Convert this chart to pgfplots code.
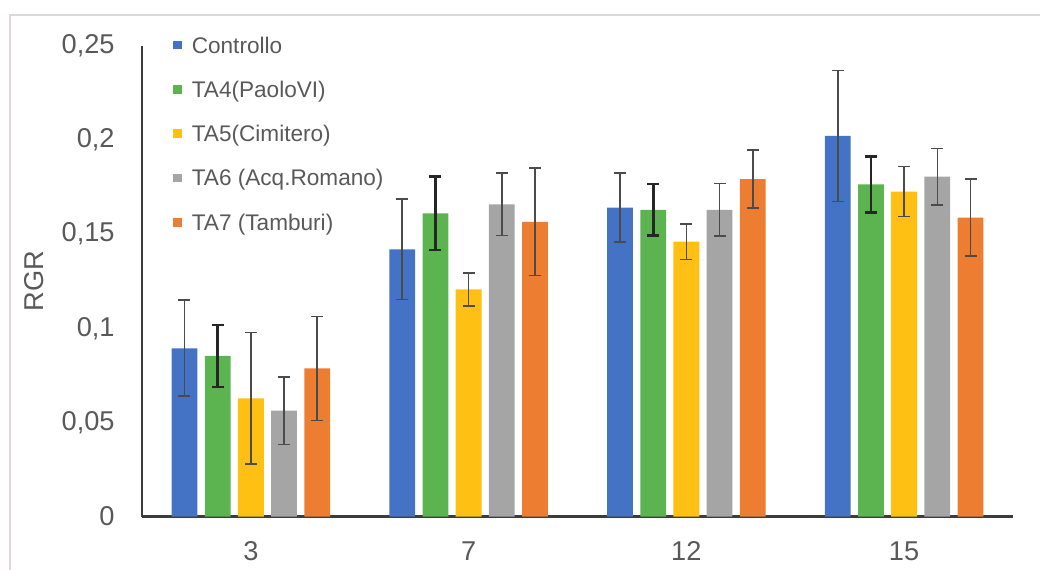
\documentclass[border=0pt]{standalone}
\usepackage{fontspec}
\setmainfont{Liberation Sans}
\usepackage{pgfplots}
\usepackage{pgfplotstable}
\pgfplotsset{compat=1.18}
\definecolor{cBlue}{RGB}{68,114,196}
\definecolor{cGreen}{RGB}{92,180,80}
\definecolor{cYellow}{RGB}{255,192,20}
\definecolor{cGray}{RGB}{165,165,165}
\definecolor{cOrange}{RGB}{237,125,49}
\definecolor{tickc}{RGB}{89,89,89}
\definecolor{axisc}{RGB}{60,60,60}
\definecolor{errc}{RGB}{75,75,75}
\definecolor{framec}{RGB}{222,216,214}
\pgfplotstableread{
x y e
0 0.0894 0.0255
1 0.1420 0.0267
2 0.1641 0.0183
3 0.2022 0.0348
}\tblA
\pgfplotstableread{
x y e
0 0.0853 0.0165
1 0.1611 0.0195
2 0.1629 0.0138
3 0.1765 0.0150
}\tblB
\pgfplotstableread{
x y e
0 0.0628 0.0350
1 0.1207 0.0087
2 0.1460 0.0095
3 0.1726 0.0133
}\tblC
\pgfplotstableread{
x y e
0 0.0562 0.0180
1 0.1659 0.0165
2 0.1629 0.0140
3 0.1806 0.0150
}\tblD
\pgfplotstableread{
x y e
0 0.0787 0.0276
1 0.1566 0.0286
2 0.1793 0.0155
3 0.1588 0.0204
}\tblE
\begin{document}
\begin{tikzpicture}
\path[use as bounding box] (-71pt,-26.25pt) rectangle (449pt,258.25pt);
\draw[framec, line width=0.8pt] (-66pt,-27pt) -- (-66pt,250.75pt) -- (450pt,250.75pt);
\begin{axis}[
  at={(0,0)}, anchor=south west,
  scale only axis, width=435.5pt, height=235.25pt,
  xmin=-0.5, xmax=3.5, ymin=0, ymax=0.25,
  ybar=3.7pt, bar width=12.9pt,
  axis x line*=bottom, axis y line*=left,
  axis line style={draw=axisc, line width=1.1pt},
  xtick={0,1,2,3}, xticklabels={3,7,12,15},
  ytick={0,0.05,0.1,0.15,0.2,0.25},
  scaled y ticks=false,
  major tick length=0pt,
  /pgf/number format/fixed,
  /pgf/number format/precision=2,
  /pgf/number format/use comma,
  /pgf/number format/assume math mode=true,
  tick label style={font=\fontsize{13.6}{16}\selectfont, text=tickc},
  yticklabel style={anchor=east, inner sep=0pt, xshift=-13.5pt},
  xticklabel style={anchor=base, inner sep=0pt, yshift=-21.75pt},
  ylabel={RGR},
  ylabel style={font=\fontsize{13.6}{16}\selectfont, text=tickc, at={(axis description cs:-0.1234,0.5)}, anchor=center},
  legend style={at={(axis description cs:0.0356,1.019)}, anchor=north west, draw=none, fill=none,
    inner sep=0pt, outer sep=0pt, font=\fontsize{11.3}{13}\selectfont, text=tickc,
    row sep=11.65pt, column sep=5pt,
    nodes={inner sep=0pt, text height=8pt, text depth=2.5pt}},
  legend cell align=left,
  every axis plot post/.append style={legend image code/.code={\fill[#1, draw=none] (0pt,-0.95pt) rectangle (4.4pt,3.45pt);}},
  error bars/error bar style={line width=0.8pt, draw=errc},
  error bars/error mark options={rotate=90, mark size=3pt, line width=0.8pt, draw=errc},
]
\addplot[fill=cBlue, draw=none, error bars/.cd, y dir=both, y explicit] table[x=x,y=y,y error=e]{\tblA};
\addlegendentry{Controllo}
\addplot[fill=cGreen, draw=none, error bars/.cd, y dir=both, y explicit,
  error bar style={line width=1.4pt, draw=black!85}, error mark options={rotate=90, mark size=3pt, line width=1.4pt, draw=black!85}] table[x=x,y=y,y error=e]{\tblB};
\addlegendentry{TA4(PaoloVI)}
\addplot[fill=cYellow, draw=none, error bars/.cd, y dir=both, y explicit] table[x=x,y=y,y error=e]{\tblC};
\addlegendentry{TA5(Cimitero)}
\addplot[fill=cGray, draw=none, error bars/.cd, y dir=both, y explicit] table[x=x,y=y,y error=e]{\tblD};
\addlegendentry{TA6 (Acq.Romano)}
\addplot[fill=cOrange, draw=none, error bars/.cd, y dir=both, y explicit] table[x=x,y=y,y error=e]{\tblE};
\addlegendentry{TA7 (Tamburi)}
\end{axis}
\end{tikzpicture}
\end{document}
